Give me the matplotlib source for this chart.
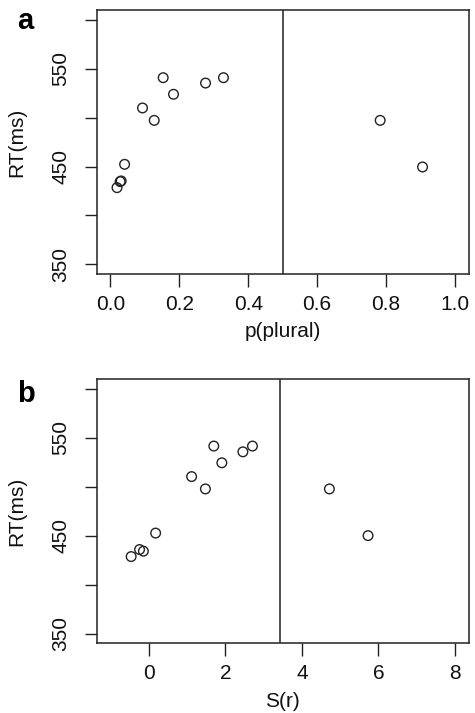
import matplotlib
matplotlib.use("Agg")
import matplotlib.pyplot as plt

plt.rcParams['font.family'] = ['Liberation Sans', 'DejaVu Sans']

# panel a data: p(plural) vs RT
p_plural = [0.019, 0.028, 0.031, 0.041, 0.093, 0.127, 0.153, 0.183, 0.276, 0.328, 0.783, 0.906]
rt_a = [428.4, 434.6, 435.3, 452.3, 510.0, 497.3, 541.0, 524.0, 535.5, 541.0, 497.3, 449.6]

# panel b data: S(r) vs RT
s_r = [-0.46, -0.24, -0.14, 0.18, 1.12, 1.48, 1.70, 1.91, 2.46, 2.71, 4.72, 5.73]
rt_b = [428.6, 435.8, 434.1, 452.6, 510.3, 497.7, 541.5, 524.4, 535.6, 541.5, 497.7, 450.0]

y_ticks = [350, 400, 450, 500, 550, 600]
y_labels = ['350', '', '450', '', '550', '']

W, H = 475, 713
fig = plt.figure(figsize=(W / 100, H / 100), dpi=100)

ink = '#222222'
fs = 15


def make_panel(rect, x, y, xlim, xticks, xticklabels, vline, xlabel):
    ax = fig.add_axes(rect)
    ax.scatter(x, y, s=48, facecolors='none', edgecolors=ink, linewidths=1.0, zorder=3)
    ax.axvline(vline, color=ink, lw=1.1)
    ax.set_xlim(*xlim)
    ax.set_ylim(340, 610)
    ax.set_xticks(xticks)
    ax.set_xticklabels(xticklabels)
    ax.set_yticks(y_ticks)
    ax.set_yticklabels(y_labels, rotation=90, va='center')
    ax.tick_params(axis='both', direction='out', length=9, width=1.0, colors=ink,
                   labelsize=fs, labelcolor='#111111')
    ax.tick_params(axis='y', pad=10)
    ax.tick_params(axis='x', pad=6)
    for sp in ax.spines.values():
        sp.set_color(ink)
        sp.set_linewidth(1.1)
    ax.set_xlabel(xlabel, fontsize=fs, color='#111111')
    ax.xaxis.set_label_coords(0.5, -0.183)
    ax.set_ylabel('RT(ms)', fontsize=fs, color='#111111')
    ax.yaxis.set_label_coords(-0.19, 0.5)
    return ax


ax1 = make_panel([96.7 / W, 1 - 274 / H, 372 / W, 263.7 / H],
                 p_plural, rt_a, (-0.04, 1.04),
                 [0, 0.2, 0.4, 0.6, 0.8, 1.0], ['0.0', '0.2', '0.4', '0.6', '0.8', '1.0'],
                 0.5, 'p(plural)')
ax2 = make_panel([96.7 / W, 1 - 643.3 / H, 372 / W, 264.3 / H],
                 s_r, rt_b, (-1.36, 8.36),
                 [0, 2, 4, 6, 8], ['0', '2', '4', '6', '8'],
                 3.42, 'S(r)')

fig.text(17 / W, 1 - 29 / H, 'a', fontsize=21, fontweight='bold', va='baseline', ha='left')
fig.text(17 / W, 1 - 402 / H, 'b', fontsize=21, fontweight='bold', va='baseline', ha='left')

fig.savefig('out.png', dpi=100)
